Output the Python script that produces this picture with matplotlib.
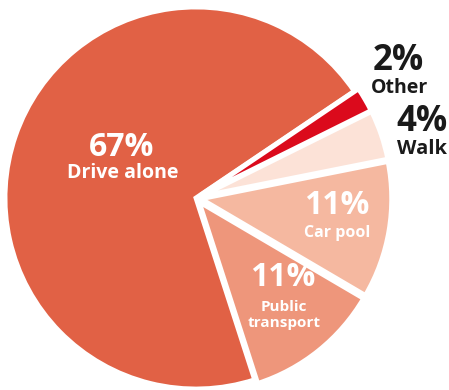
import matplotlib
matplotlib.use("Agg")
import matplotlib.pyplot as plt

# commute mode shares (as printed on the chart)
modes = ["Drive alone", "Public transport", "Car pool", "Walk", "Other"]
shares = [67, 11, 11, 4, 2]
colors = ["#E16145", "#EE967B", "#F5B8A0", "#FCE2D7", "#DB0A1C"]

W, H = 449, 390
CX, CY, R = 196, 198, 191  # pie centre and radius in pixels

fig = plt.figure(figsize=(W / 100, H / 100), dpi=100)
ax = fig.add_axes([0, 0, 1, 1])

ax.pie(shares, colors=colors, startangle=34, counterclock=True,
       explode=[0, 0.025, 0.025, 0.025, 0.025],
       wedgeprops=dict(edgecolor="white", linewidth=3.5))

ax.set_xlim(-CX / R, (W - CX) / R)
ax.set_ylim(-(H - CY) / R, CY / R)
ax.set_aspect("auto")
ax.axis("off")


def px(x, y):
    return x / W, 1 - y / H


font = "Open Sans"
white_labels = [
    ("67%", (122, 147), 23), ("Drive alone", (123, 173), 14),
    ("11%", (337, 205), 23), ("Car pool", (337, 233), 11.5),
    ("11%", (283, 277), 23), ("Public\ntransport", (284, 315), 11),
]
for txt, (x, y), size in white_labels:
    fig.text(*px(x, y), txt, color="white", fontsize=size, fontweight="bold",
             family=font, ha="center", va="center", linespacing=1.25)

dark_labels = [
    ("2%", (398, 61), 25), ("Other", (399, 88), 14),
    ("4%", (422, 122), 25), ("Walk", (422, 149), 14.5),
]
for txt, (x, y), size in dark_labels:
    fig.text(*px(x, y), txt, color="#1a1a1a", fontsize=size, fontweight="bold",
             family=font, ha="center", va="center")

fig.savefig("out.png", dpi=100)
